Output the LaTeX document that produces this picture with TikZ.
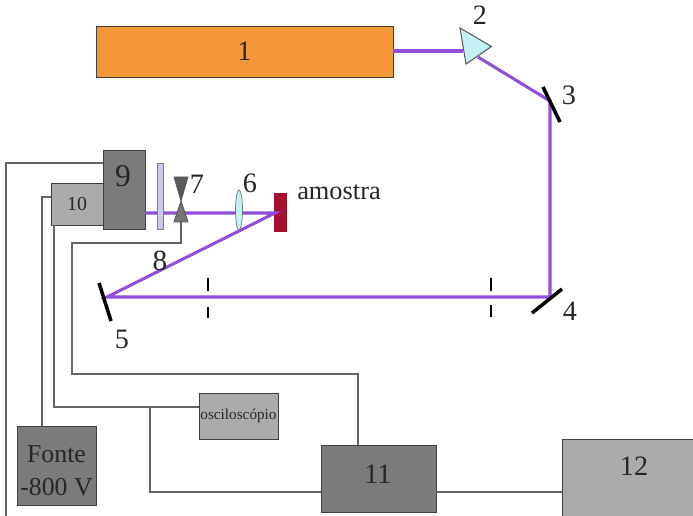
\documentclass[tikz,border=0pt]{standalone}
\usepackage{xcolor}
\usepackage{fontspec}
\setmainfont{Liberation Serif}
\usetikzlibrary{positioning,calc,shapes.geometric}
\definecolor{laserorange}{HTML}{F4963A}
\definecolor{beamviolet}{HTML}{8F4FD8}
\definecolor{darkbox}{HTML}{7B7B7B}
\definecolor{lightbox}{HTML}{ABABAB}
\definecolor{samplered}{HTML}{A5112F}
\definecolor{opticcyan}{HTML}{C4F2F4}
\definecolor{plateblue}{HTML}{C9C9F2}
\tikzset{
    boxnode/.style={rectangle, draw=black!75, line width=0.8pt, outer sep=0pt, inner sep=0pt, text=black!85},
    num/.style={inner sep=0pt, text=black!85, font=\fontsize{24}{26}\selectfont},
    beam/.style={beamviolet, line width=2.6pt},
    wire/.style={black!60, line width=0.9pt},
    mirror/.style={black, line width=3pt},
    iris/.style={black, line width=2.2pt}
}
\begin{document}
\begin{tikzpicture}[x=0.03cm, y=-0.03cm]
    \useasboundingbox (0,0) rectangle (693,516);
    % laser
    \node [boxnode, fill=laserorange, minimum width=8.91cm, minimum height=1.53cm, font=\fontsize{24}{26}\selectfont] (laser) at (244.5,51.5) {1};
    % detection boxes
    \node [boxnode, fill=darkbox, minimum width=1.26cm, minimum height=2.37cm] (det9) at (124,189.5) {};
    \node [boxnode, fill=lightbox, minimum width=1.56cm, minimum height=1.26cm, font=\fontsize{17}{19}\selectfont] (det10) at (77,204) {10};
    \node [boxnode, fill=samplered, draw=samplered, minimum width=0.37cm, minimum height=1.15cm] (sample) at (280.5,212.5) {};
    % electronics
    \node [boxnode, fill=darkbox, minimum width=2.37cm, minimum height=2.37cm] (fonte) at (56.5,465.5) {};
    \node [boxnode, fill=lightbox, minimum width=2.37cm, minimum height=1.38cm, font=\fontsize{13}{15}\selectfont] (osc) at (238.5,416) {osciloscópio};
    \node [boxnode, fill=darkbox, minimum width=3.45cm, minimum height=2.01cm] (box11) at (378.5,478.5) {};
    \node [boxnode, fill=lightbox, minimum width=3.93cm, minimum height=2.31cm] (box12) at (627.5,477.5) {};
    % beam path
    \coordinate (prismin) at (463,51);
    \coordinate (prismout) at (478,57);
    \coordinate (m3) at (550,101);
    \coordinate (m4) at (550,297);
    \coordinate (m5) at (107,297);
    \coordinate (spot) at (275,213);
    \draw [beam] (laser.east |- prismin) -- (prismin);
    \draw [beam, line join=miter] (prismout) -- (m3) -- (m4) -- (m5) -- (spot) -- (det9.east |- spot);
    % plate sits over the beam
    \node [boxnode, fill=plateblue, draw=black!50, minimum width=0.2cm, minimum height=1.98cm] (plate) at (160.5,196) {};
    % prism
    \draw [fill=opticcyan, draw=black!65, line width=0.9pt] (460,28) -- (491.5,46.5) -- (466,64) -- cycle;
    % lens
    \node [ellipse, draw=black!55, fill=opticcyan, line width=0.6pt, minimum width=0.21cm, minimum height=1.2cm, inner sep=0pt] (lens) at (239,210) {};
    % chopper
    \coordinate (chopc) at (181,201);
    \coordinate (chopb) at (181,222);
    \draw [fill=black!65, draw=black!65, line width=0.7pt] (174,177) -- (188,177) -- (chopc) -- cycle;
    \draw [fill=black!55, draw=black!65, line width=0.7pt] (174,222) -- (188,222) -- (chopc) -- cycle;
    % mirrors and irises
    \draw [mirror] (543,87) -- (560,122);
    \draw [mirror] (562,289) -- (532,313);
    \draw [mirror] (99,283) -- (111,321);
    \draw [iris] (208,278) -- (208,291);
    \draw [iris] (208,307) -- (208,318);
    \draw [iris] (491,278) -- (491,291);
    \draw [iris] (491,305) -- (491,317);
    % wires
    \coordinate (split) at (150,407);
    \draw [wire] (det9.west |- 0,163) -- (6,163) -- (6,516);
    \draw [wire] (det10.west |- 0,197) -- (42,197) -- (fonte.north -| 42,0);
    \draw [wire] (det10.south -| 54,0) -- (54,407) -- (split) -- (osc.west |- split);
    \draw [wire] (split) -- (150,492) -- (box11.west |- 0,492);
    \draw [wire] (chopb) -- (181,243) -- (72,243) -- (72,374) -- (358,374) -- (box11.north -| 358,0);
    \draw [wire] (box11.east |- 0,492) -- (box12.west |- 0,492);
    % labels
    \node [num] (lab2) at (480,15) {2};
    \node [num] (lab3) at (569,95) {3};
    \node [num] (lab4) at (570,311) {4};
    \node [num] (lab5) at (122,339) {5};
    \node [num] (lab6) at (250,183) {6};
    \node [num] (lab7) at (197,184) {7};
    \node [num, font=\fontsize{25}{27}\selectfont] (lab8) at (160,261) {8};
    \node [num, font=\fontsize{27}{29}\selectfont] (lab9) at (123,176) {9};
    \node [num] (lab11) at (378,474) {11};
    \node [num] (lab12) at (634,466) {12};
    \node [num, font=\fontsize{22.5}{24}\selectfont] (labsample) at (339,192) {amostra};
    \node [num, font=\fontsize{22}{24}\selectfont] (labfonte) at (56.5,454) {Fonte};
    \node [num, font=\fontsize{22}{24}\selectfont] (labvolt) at (56.5,487) {-800 V};
\end{tikzpicture}
\end{document}
